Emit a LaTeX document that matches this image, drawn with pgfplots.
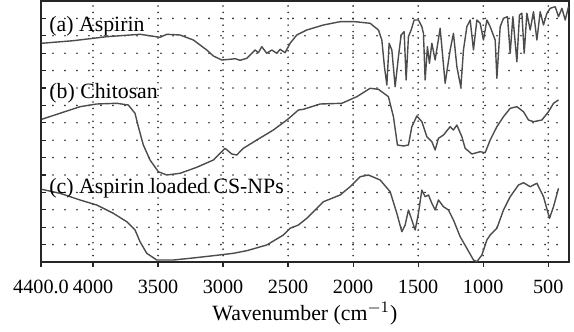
\documentclass[border=0pt]{standalone}
\usepackage{pgfplots}
\pgfplotsset{compat=1.18}
\usepackage{fontspec}
\setmainfont{Liberation Serif}
\newcommand{\lblfont}{\fontsize{10.9}{12.5}\selectfont}
\newcommand{\tickfont}{\fontsize{10.1}{12}\selectfont}
\begin{document}
\begin{tikzpicture}
\begin{axis}[
  scale only axis,
  width=264pt, height=130.5pt,
  x dir=reverse,
  xmin=340, xmax=4400,
  ymin=0, ymax=261,
  xtick={4400,4000,3500,3000,2500,2000,1500,1000,500},
  xticklabels={4400.0,4000,3500,3000,2500,2000,1500,1000,500},
  ytick={0,17.4,34.8,52.2,69.6,87,104.4,121.8,139.2,156.6,174,191.4,208.8,226.2,243.6,261},
  yticklabels={},
  xtick pos=bottom, ytick pos=left,
  xtick align=outside, ytick align=inside,
  major tick length=2.5pt,
  tick style={black!85, line width=0.6pt},
  axis line style={black!85, line width=0.75pt},
  xmajorgrids=true, ymajorgrids=true,
  major grid style={black!85, line width=0.9pt, line cap=round},
  every axis x grid/.append style={dash pattern=on 0pt off 3.2pt},
  every axis y grid/.append style={dash pattern=on 0pt off 6pt},
  ticklabel style={font=\tickfont},
  xticklabel style={yshift=-3pt},
  /pgf/number format/assume math mode=true,
  xlabel={Wavenumber (cm$^{-1}$)},
  xlabel style={font=\lblfont, yshift=2.5pt},
]
% (a) Aspirin
\addplot[black!70, line width=0.7pt, line join=round, no markers] coordinates {
(4395,218.7)(4151.6,221.3)(3894.6,225.3)(3638.5,227.7)(3484.6,224.7)(3433.1,227.7)(3330.8,227)
(3228.5,222)(3125.4,212)(3074.6,206)(3010,202)(2946.2,202.7)(2907.7,203.3)(2869.2,201.7)
(2817.7,203.7)(2779.2,208.7)(2753.9,212)(2728.5,209.3)(2702.3,215.3)(2663.9,208.7)(2625.4,212)
(2586.9,208.7)(2561.6,212.7)(2523.1,209.3)(2484.6,218.7)(2433.1,227)(2356.2,232)(2228.4,237)
(2100,240.3)(1984.6,240.3)(1869.2,238.7)(1805.4,232)(1779.2,222)(1759.2,195.3)(1740.8,177)
(1723.1,218.7)(1702.3,212)(1676.9,175.3)(1651.5,205.3)(1630.8,227)(1607.7,230.3)(1592.3,182)
(1574.6,225.3)(1553.9,232)(1530.8,242)(1497.7,242)(1471.6,235.3)(1459.2,228.7)(1446.2,182)
(1428.5,215.3)(1413.1,198.7)(1394.6,218.7)(1369.2,202)(1330.8,233.7)(1292.3,178.7)(1253.9,212)
(1228.5,228.7)(1202.3,195.3)(1171.6,174.7)(1151.6,212)(1125.5,235.3)(1100,242)(1074.6,212)
(1048.5,242)(1023.1,238.7)(997.7,222)(971.6,242)(946.2,235.3)(907.7,222)(894.6,183.7)
(869.2,235.3)(843.9,243.7)(813.1,245.3)(792.3,208.7)(771.6,245.3)(740.8,200.3)(720.8,247)
(702.3,248.7)(684.6,208.7)(663.9,248.7)(638.5,232)(613.1,250.3)(586.9,222)(561.6,250.3)
(536.2,237)(510,248.7)(484.6,253.7)(446.2,255.3)(420.8,245.3)(394.6,253.7)(369.2,242)(343.9,255.3)
};
% (b) Chitosan
\addplot[black!70, line width=0.7pt, line join=round, no markers] coordinates {
(4395,142.7)(4253.9,148.7)(4100,155.3)(3971.6,158)(3817.7,158.7)(3728.5,157)(3676.9,148.7)
(3651.6,135.3)(3613.1,117)(3561.6,102)(3497.7,90.3)(3433.1,87)(3330.8,88.7)(3202.3,94.7)
(3074.6,102)(2984.6,113.7)(2933.1,108)(2894.6,107)(2843.9,113.7)(2740.8,122)(2613.1,132)
(2510,142)(2484.6,144.7)(2420.8,152)(2382.3,152.7)(2253.9,158)(2086.9,158.7)(1971.6,165.3)
(1869.2,173.7)(1805.4,172.7)(1728.5,165.3)(1690,145.3)(1659.2,117)(1613.1,116)(1574.6,117)
(1548.5,135.3)(1510,146)(1471.6,140.3)(1433.1,125.3)(1394.6,120.3)(1369.2,112)(1343.9,123.7)
(1305.4,127)(1253.9,135.3)(1228.5,132)(1202.3,137)(1163.9,125.3)(1138.5,113.7)(1086.9,108)
(1023.1,110.3)(984.6,109.3)(946.2,122)(894.6,135.3)(843.9,145.3)(792.3,153.7)(740.8,155.3)
(690,150.3)(651.6,142)(613.1,140.3)(548.5,142)(497.7,150.3)(459.2,158.7)(420.8,162)
};
% (c) Aspirin loaded CS-NPs
\addplot[black!70, line width=0.7pt, line join=round, no markers] coordinates {
(4395,72.7)(4253.9,68.7)(4100,62)(3971.6,57)(3843.9,48.7)(3740.8,40.3)(3676.9,32)
(3638.5,20.3)(3586.9,8.7)(3510,2)(3382.3,2)(3253.9,3.7)(3074.6,6.3)(2920.8,8.7)(2817.7,11.3)
(2663.9,17)(2536.2,27)(2484.6,33.7)(2420.8,37)(2356.2,43.7)(2228.4,60.3)(2100,67)(2023.1,75.3)
(1946.2,85.3)(1882.3,87)(1792.3,82)(1715.4,70.3)(1663.9,48.7)(1625.4,30.3)(1600,37)(1574.6,52)
(1548.5,42)(1523.1,32)(1497.7,48.7)(1471.6,72)(1446.2,65.3)(1420.8,67)(1394.6,58.7)(1369.2,52)
(1343.9,62)(1305.4,55.3)(1266.9,52)(1228.5,42)(1176.9,25.3)(1125.5,13.7)(1074.6,2)(1048.5,0.3)
(1010,7)(971.6,22)(946.2,27)(894.6,33.7)(843.9,52)(792.3,65.3)(728.5,77)(690,79.3)(638.5,75.3)
(586.9,78.7)(536.2,65.3)(490,43.7)(459.2,55.3)(420.8,73.7)
};
\node[anchor=base west, inner sep=0pt, font=\lblfont] at (axis cs:4338,230.3) {(a) Aspirin};
\node[anchor=base west, inner sep=0pt, font=\lblfont] at (axis cs:4338,163.7) {(b) Chitosan};
\node[anchor=base west, inner sep=0pt, font=\lblfont] at (axis cs:4338,68.7) {(c) Aspirin loaded CS-NPs};
\coordinate (SW) at (rel axis cs:0,0);
\coordinate (NE) at (rel axis cs:1,1);
\end{axis}
\pgfresetboundingbox
\path[use as bounding box] ([xshift=-20.5pt,yshift=-34.5pt]SW) rectangle ([xshift=2.5pt,yshift=0.5pt]NE);
\end{tikzpicture}
\end{document}
